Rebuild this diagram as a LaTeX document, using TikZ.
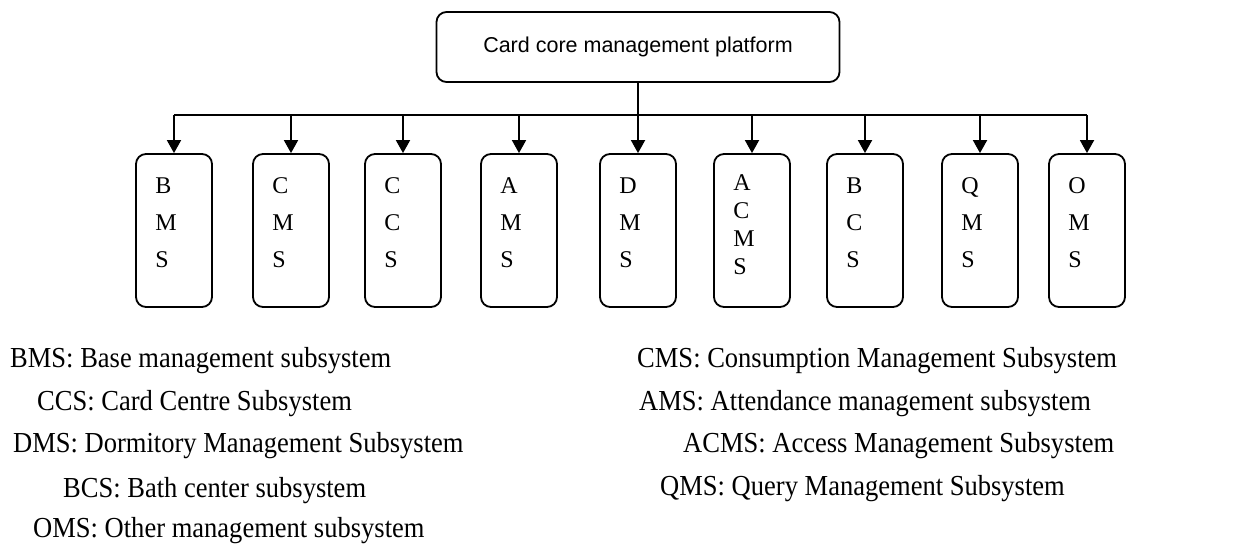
\documentclass[tikz,border=0pt]{standalone}
\usepackage{fontspec}
\setmainfont{Liberation Serif}
\newfontfamily\arialfont{Liberation Sans}
\usepackage{tikz}
\usetikzlibrary{positioning,calc,arrows.meta}

\newcommand\squeeze[1]{\scalebox{0.915}[1]{#1}}

\tikzset{
  platform/.style={draw, line width=1.8pt, rounded corners=10pt, minimum width=403pt, minimum height=70pt, font=\arialfont\fontsize{21.5pt}{26pt}\selectfont},
  subbox/.style={draw, line width=1.8pt, rounded corners=10pt, minimum width=76pt, minimum height=153pt},
  letters/.style={align=left, inner sep=0pt, anchor=north west},
  legend/.style={anchor=base west, inner sep=0pt, font=\fontsize{29pt}{36pt}\selectfont},
  arr/.style={line width=1.8pt, -{Triangle[length=13pt,width=14pt]}}
}

\begin{document}
\begin{tikzpicture}[x=1pt, y=-1pt]
    \useasboundingbox (0,0) rectangle (1233,545);
    \node[platform] (top) at (638,47) {Card core management platform};
    \coordinate (bus) at (638,115);
    \draw[line width=1.8pt] (top.south) -- (bus);
    % subsystems
    \foreach \n/\x/\t/\s/\d in {bms/174/{B\\M\\S}/37/24, cms/291/{C\\M\\S}/37/24, ccs/403/{C\\C\\S}/37/24, ams/519/{A\\M\\S}/37/24, dms/638/{D\\M\\S}/37/24, acms/752/{A\\C\\M\\S}/28/21, bcs/865/{B\\C\\S}/37/24, qms/980/{Q\\M\\S}/37/24, oms/1087/{O\\M\\S}/37/24} {
        \node[subbox] (\n) at (\x,230.5) {};
        \node[letters, font=\fontsize{24pt}{\s pt}\selectfont] (\n-t) at ([xshift=20pt, yshift=-\d pt]\n.north west) {\t};
        \draw[arr] (bus -| \n.north) -- (\n.north);
    }
    \draw[line width=1.8pt] (bus -| bms.north) -- (bus -| oms.north);
    % legend
    \node[legend] (l1) at (10,367) {\squeeze{BMS: Base management subsystem}};
    \node[legend] (l2) at (37,410) {\squeeze{CCS: Card Centre Subsystem}};
    \node[legend] (l3) at (13,452) {\squeeze{DMS: Dormitory Management Subsystem}};
    \node[legend] (l4) at (63,497) {\squeeze{BCS: Bath center subsystem}};
    \node[legend] (l5) at (33,537) {\squeeze{OMS: Other management subsystem}};
    \node[legend] (r1) at (637,367) {\squeeze{CMS: Consumption Management Subsystem}};
    \node[legend] (r2) at (639,410) {\squeeze{AMS: Attendance management subsystem}};
    \node[legend] (r3) at (683,452) {\squeeze{ACMS: Access Management Subsystem}};
    \node[legend] (r4) at (660,495) {\squeeze{QMS: Query Management Subsystem}};
\end{tikzpicture}
\end{document}
